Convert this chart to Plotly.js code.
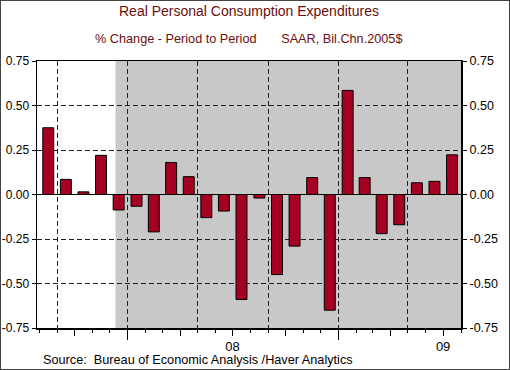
<!DOCTYPE html>
<html>
<head>
<meta charset="utf-8">
<script src="https://cdn.plot.ly/plotly-3.0.1.min.js"></script>
<style>
  html, body { margin: 0; padding: 0; background: #fff; }
  #chart { width: 508px; height: 368px; border: 1px solid #444; }
</style>
</head>
<body>
<div id="chart"></div>
<script>
// ---- data ----
const months = ['2007-08','2007-09','2007-10','2007-11','2007-12',
                '2008-01','2008-02','2008-03','2008-04','2008-05','2008-06',
                '2008-07','2008-08','2008-09','2008-10','2008-11','2008-12',
                '2009-01','2009-02','2009-03','2009-04','2009-05','2009-06','2009-07'];
const pceChange = [0.375, 0.085, 0.015, 0.22, -0.087,
                   -0.066, -0.21, 0.18, 0.10, -0.13, -0.093,
                   -0.59, -0.02, -0.45, -0.29, 0.095, -0.65,
                   0.585, 0.095, -0.22, -0.17, 0.066, 0.074, 0.223];
const yTickVals = [-0.75, -0.5, -0.25, 0, 0.25, 0.5, 0.75];
const yTickText = ['-0.75', '-0.50', '-0.25', '0.00', '0.25', '0.50', '0.75'];
const yearLabelDates = ['2008-07-01', '2009-07-01'];
const yearLabels = ['08', '09'];
const recessionStart = '2007-12-11';
const xRange = ['2007-07-28', '2009-08-01'];

const titleText = 'Real Personal Consumption Expenditures';
const subtitleText = '% Change - Period to Period&nbsp;&nbsp;&nbsp;&nbsp;&nbsp;&nbsp;&nbsp;SAAR, Bil.Chn.2005$';
const sourceText = 'Source:&nbsp;&nbsp;Bureau of Economic Analysis /Haver Analytics';

// ---- styling ----
const FONT = 'Liberation Sans, Arial, sans-serif';
const TITLE_COLOR = '#6a0e0e';
const DAY = 86400000;

const traces = [
  {
    type: 'bar',
    x: months,
    y: pceChange,
    xperiod: 'M1',
    xperiodalignment: 'middle',
    width: 19 * DAY,
    marker: { color: '#a50021', line: { color: '#000', width: 1 } },
    hoverinfo: 'x+y',
    showlegend: false
  },
  { type: 'scatter', x: [], y: [], xaxis: 'x2', yaxis: 'y', showlegend: false, hoverinfo: 'skip' },
  { type: 'scatter', x: [], y: [], xaxis: 'x3', yaxis: 'y', showlegend: false, hoverinfo: 'skip' },
  { type: 'scatter', x: [], y: [], xaxis: 'x4', yaxis: 'y', showlegend: false, hoverinfo: 'skip' },
  { type: 'scatter', x: [], y: [], xaxis: 'x5', yaxis: 'y', showlegend: false, hoverinfo: 'skip' },
  { type: 'scatter', x: [], y: [], xaxis: 'x', yaxis: 'y2', showlegend: false, hoverinfo: 'skip' }
];

const hiddenX = {
  type: 'date', range: xRange, overlaying: 'x', anchor: 'y', side: 'bottom',
  showline: false, showgrid: false, zeroline: false, showticklabels: false,
  fixedrange: true
};

const layout = {
  width: 508,
  height: 368,
  margin: { l: 36, r: 48, t: 60, b: 41, pad: 0 },
  paper_bgcolor: '#fff',
  plot_bgcolor: '#fff',
  font: { family: FONT, size: 12, color: '#000' },
  bargap: 0,
  xaxis: {
    type: 'date', range: xRange,
    tick0: '2007-08-01', dtick: 'M1',
    ticks: 'outside', ticklen: 3, tickcolor: '#000', tickwidth: 1,
    showticklabels: false, showgrid: false, zeroline: false,
    showline: true, mirror: true, linecolor: '#000', linewidth: 1.5,
    fixedrange: true
  },
  xaxis2: Object.assign({}, hiddenX, {
    tick0: '2007-10-01', dtick: 'M3',
    ticks: 'outside', ticklen: 7, tickcolor: '#000', tickwidth: 1
  }),
  xaxis3: Object.assign({}, hiddenX, {
    tick0: '2008-01-01', dtick: 'M12',
    ticks: 'outside', ticklen: 11, tickcolor: '#000', tickwidth: 1
  }),
  xaxis4: Object.assign({}, hiddenX, {
    tick0: '2007-09-01', dtick: 'M4',
    ticks: '', showgrid: true, gridcolor: '#222', gridwidth: 1, griddash: '5px,3px'
  }),
  xaxis5: Object.assign({}, hiddenX, {
    tickmode: 'array', tickvals: yearLabelDates, ticktext: yearLabels,
    ticks: 'outside', ticklen: 6, tickcolor: 'rgba(0,0,0,0)',
    showticklabels: true, tickfont: { family: FONT, size: 13, color: '#000' }
  }),
  yaxis: {
    range: [-0.75, 0.75],
    tickmode: 'array', tickvals: yTickVals, ticktext: yTickText,
    ticks: 'outside', ticklen: 4, tickcolor: '#000', tickwidth: 1,
    tickfont: { family: FONT, size: 12, color: '#000' },
    showgrid: true, gridcolor: '#222', gridwidth: 1, griddash: '5px,3px',
    zeroline: true, zerolinecolor: '#000', zerolinewidth: 1,
    showline: true, mirror: true, linecolor: '#000', linewidth: 1.5,
    fixedrange: true
  },
  yaxis2: {
    range: [-0.75, 0.75], overlaying: 'y', anchor: 'x', side: 'right',
    tickmode: 'array', tickvals: yTickVals, ticktext: yTickText,
    ticks: 'outside', ticklen: 5, tickcolor: '#000', tickwidth: 1,
    tickfont: { family: FONT, size: 12.5, color: '#000' },
    showgrid: false, zeroline: false, showline: false,
    fixedrange: true
  },
  shapes: [
    {
      type: 'rect', layer: 'below',
      xref: 'x', yref: 'paper',
      x0: recessionStart, x1: xRange[1], y0: 0, y1: 1,
      fillcolor: '#c8c8c8', line: { width: 0 }
    }
  ],
  annotations: [
    {
      text: titleText, xref: 'paper', yref: 'paper', x: 0.5, y: 1.188,
      xanchor: 'center', yanchor: 'middle', showarrow: false,
      font: { family: FONT, size: 14, color: TITLE_COLOR }
    },
    {
      text: subtitleText, xref: 'paper', yref: 'paper', x: 0.5, y: 1.083,
      xanchor: 'center', yanchor: 'middle', showarrow: false,
      font: { family: FONT, size: 12.7, color: TITLE_COLOR }
    },
    {
      text: sourceText, xref: 'paper', yref: 'paper', x: 0.009, y: -0.12,
      xanchor: 'left', yanchor: 'middle', showarrow: false,
      font: { family: FONT, size: 12.7, color: '#000' }
    }
  ]
};

Plotly.newPlot('chart', traces, layout, { displayModeBar: false, staticPlot: true });
</script>
</body>
</html>
